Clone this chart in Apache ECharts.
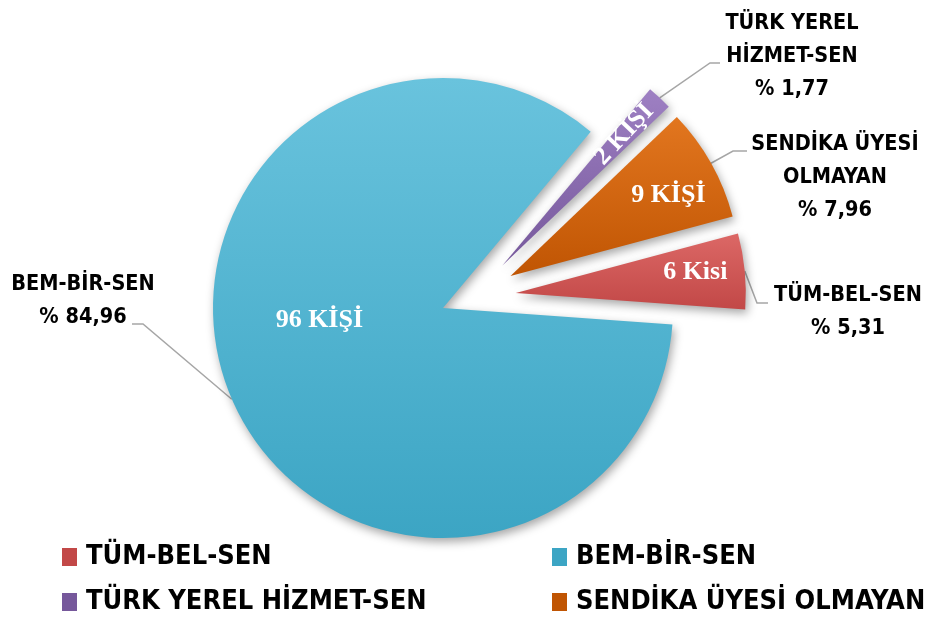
<!DOCTYPE html>
<html>
<head>
<meta charset="utf-8">
<script src="https://cdn.jsdelivr.net/npm/echarts@6/dist/echarts.min.js"></script>
<style>
html, body { margin: 0; padding: 0; background: #fff; }
#chart { width: 931px; height: 617px; }
</style>
</head>
<body>
<div id="chart"></div>
<script>
// data
const categories = ['TÜM-BEL-SEN', 'BEM-BİR-SEN', 'TÜRK YEREL HİZMET-SEN', 'SENDİKA ÜYESİ OLMAYAN'];
const counts = [6, 96, 2, 9];
const unitWords = ['Kisi', 'KİŞİ', 'KİŞİ', 'KİŞİ'];
const calloutNames = ['TÜM-BEL-SEN', 'BEM-BİR-SEN', 'TÜRK YEREL\nHİZMET-SEN', 'SENDİKA ÜYESİ\nOLMAYAN'];

const sansFont = "'Liberation Sans Narrow', 'DejaVu Sans Condensed', 'Liberation Sans', sans-serif";
const serifFont = "'Liberation Serif', 'DejaVu Serif', serif";
const palette = [
    ['#DC6866', '#C24847'],
    ['#69C3DD', '#3CA5C4'],
    ['#9E80C3', '#76589B'],
    ['#E2761F', '#C05503']
];
const BEM = 1;
const bigCenter = [443, 308];     // BEM-BİR-SEN stays in place
const smallCenter = [473, 297];   // the three pulled-out slices
const pieRadius = 230;

// nudges for the white count labels (the rotated one is in its own frame)
const insideNudge = [[62, -9], [-15, -34], [61, -1], [55, -23]];
// how far the leader line start is pushed out along the slice radius
const calloutPush = [43, 32, 43, 43];
// callout text centre, elbow and end of the leader line
const callouts = [
    { at: [848, 312], elbow: [757, 303], end: [768, 303] },
    { at: [83, 301], elbow: [143, 324], end: [132, 324] },
    { at: [792, 56], elbow: [710, 63], end: [720, 63] },
    { at: [835, 177], elbow: [733, 151], end: [747, 151] }
];

function fill(i) {
    return new echarts.graphic.LinearGradient(0, 0, 0, 1, [
        { offset: 0, color: palette[i][0] },
        { offset: 1, color: palette[i][1] }
    ]);
}
const hidden = { color: 'rgba(0,0,0,0)', shadowBlur: 0, borderWidth: 0 };
function solid(i) {
    return {
        color: fill(i),
        shadowBlur: 10,
        shadowOffsetX: 2,
        shadowOffsetY: 4,
        shadowColor: 'rgba(0,0,0,0.35)'
    };
}
function insideLabel(i) {
    const lab = {
        show: true,
        position: 'inside',
        formatter: counts[i] + ' ' + unitWords[i],
        color: '#fff',
        fontFamily: serifFont,
        fontWeight: 'bold',
        fontSize: 26
    };
    if (i === 2) { lab.rotate = 'radial'; }
    return lab;
}

const basePie = {
    type: 'pie',
    radius: pieRadius,
    startAngle: 15,
    clockwise: true,
    selectedMode: 'multiple',
    avoidLabelOverlap: false,
    silent: true,
    animation: false,
    emphasis: { disabled: true }
};

function slicesSeries(center, offset, visible) {
    return Object.assign({}, basePie, {
        center: center,
        selectedOffset: offset,
        data: categories.map((name, i) => ({
            name: name,
            value: counts[i],
            selected: offset > 0 && visible(i),
            itemStyle: visible(i) ? solid(i) : hidden,
            label: visible(i) ? insideLabel(i) : { show: false },
            labelLine: { show: false }
        })),
        labelLayout: function (p) {
            const n = insideNudge[p.dataIndex];
            return { dx: n[0], dy: n[1] };
        }
    });
}

const calloutSeries = Object.assign({}, basePie, {
    center: smallCenter,
    data: categories.map((name, i) => ({
        name: name,
        value: counts[i],
        itemStyle: hidden
    })),
    label: {
        show: true,
        position: 'outside',
        formatter: p => calloutNames[p.dataIndex] + '\n% ' + p.percent.toFixed(2).replace('.', ','),
        color: '#000',
        fontFamily: sansFont,
        fontWeight: 'bold',
        fontSize: 21.5,
        lineHeight: 33,
        align: 'center'
    },
    labelLine: {
        show: true,
        lineStyle: { color: '#A6A6A6', width: 1.5 }
    },
    labelLayout: function (p) {
        const c = callouts[p.dataIndex];
        const pts = p.labelLinePoints;
        let start = c.elbow;
        if (pts) {
            const vx = pts[1][0] - pts[0][0], vy = pts[1][1] - pts[0][1];
            const len = Math.sqrt(vx * vx + vy * vy) || 1;
            const push = calloutPush[p.dataIndex];
            start = [pts[0][0] + vx / len * push, pts[0][1] + vy / len * push];
        }
        return {
            x: c.at[0],
            y: c.at[1],
            align: 'center',
            verticalAlign: 'middle',
            labelLinePoints: [start, c.elbow, c.end]
        };
    }
});

function legendItem(i, left, top) {
    return {
        orient: 'horizontal',
        left: left,
        top: top,
        padding: 0,
        selectedMode: false,
        icon: 'rect',
        itemWidth: 15,
        itemHeight: 18,
        textStyle: {
            fontFamily: sansFont,
            fontWeight: 'bold',
            fontSize: 27,
            lineHeight: 30,
            color: '#000',
            padding: [0, 0, 0, 4]
        },
        data: [{ name: categories[i], itemStyle: { color: palette[i][1] } }]
    };
}

const myChart = echarts.init(document.getElementById('chart'));
myChart.setOption({
    backgroundColor: '#fff',
    animation: false,
    legend: [
        legendItem(0, 62, 542),
        legendItem(1, 552, 542),
        legendItem(2, 62, 587),
        legendItem(3, 552, 587)
    ],
    series: [
        slicesSeries(bigCenter, 0, i => i === BEM),
        slicesSeries(smallCenter, 43, i => i !== BEM),
        calloutSeries
    ]
});
</script>
</body>
</html>
